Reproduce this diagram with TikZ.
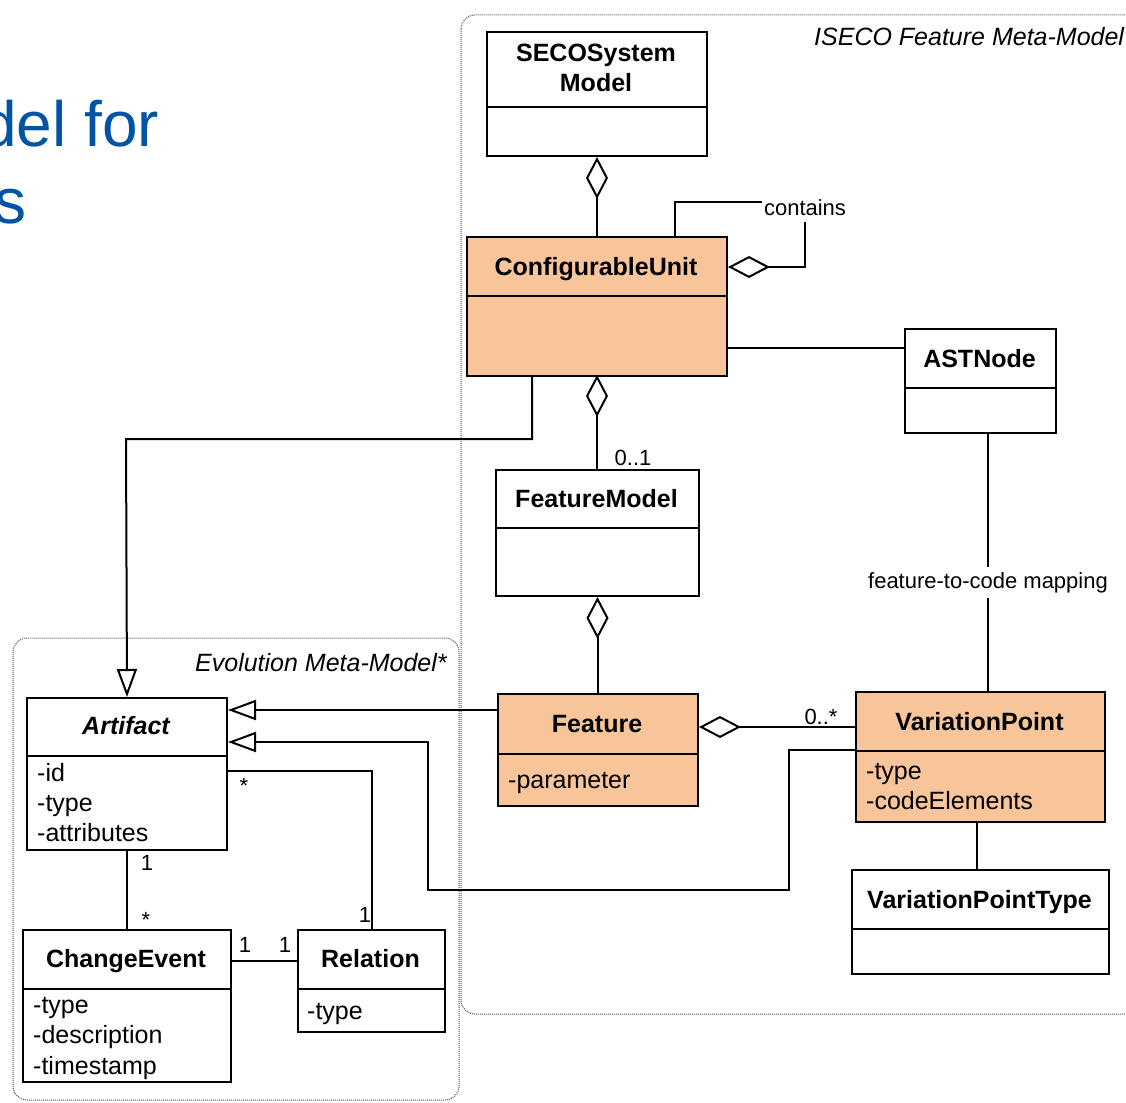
\documentclass[tikz,border=0pt]{standalone}
\usepackage{fontspec}
\setmainfont{Liberation Sans}
\usetikzlibrary{arrows.meta}

\definecolor{unitfill}{RGB}{248,197,155}
\definecolor{titleblue}{RGB}{0,84,164}
\definecolor{pkgline}{RGB}{80,80,80}

\tikzset{
  classbox/.style={draw, line width=2pt, fill=white, inner sep=0pt, anchor=north west},
  unitbox/.style={classbox, fill=unitfill},
  cname/.style={font=\bfseries\fontsize{25}{30}\selectfont, anchor=base, inner sep=0pt},
  attr/.style={font=\fontsize{25}{30}\selectfont, anchor=base west, inner sep=0pt},
  lbl/.style={font=\fontsize{22}{26}\selectfont, anchor=base, inner sep=0pt},
  pkgtitle/.style={font=\itshape\fontsize{25}{30}\selectfont, anchor=base west, inner sep=0pt},
  divider/.style={line width=2pt},
  conn/.style={line width=2pt},
  aggr/.style={conn, {Diamond[open, length=42pt, width=22pt]}-},
  gen/.style={conn, -{Triangle[open, length=28pt, width=20pt]}},
  pkg/.style={densely dotted, line width=1pt, draw=pkgline, rounded corners=14pt},
}

\begin{document}
\begin{tikzpicture}[x=1pt, y=-1pt]
\useasboundingbox (0,0) rectangle (1126,1102);

% slide heading fragments
\node[font=\fontsize{64}{76}\selectfont, text=titleblue, anchor=base west, inner sep=0pt] (head1) at (-19,147) {del for};
\node[font=\fontsize{64}{76}\selectfont, text=titleblue, anchor=base west, inner sep=0pt] (head2) at (-6,223) {s};

% packages
\draw[pkg] (461,15) rectangle (1160,1014);
\draw[pkg] (13,638) rectangle (459,1100);
\node[pkgtitle] (isecot) at (814,46) {ISECO Feature Meta-Model};
\node[pkgtitle] (evot) at (195,671) {Evolution Meta-Model*};

% classes
\node[classbox, minimum width=220pt, minimum height=124pt] (seco) at (486,31) {};
\draw[divider] (seco.west |- 0,107) -- (seco.east |- 0,107);
\node[cname] at (596,62) {SECOSystem};
\node[cname] at (596,92) {Model};

\node[unitbox, minimum width=260pt, minimum height=139pt] (cu) at (466,236) {};
\draw[divider] (cu.west |- 0,296) -- (cu.east |- 0,296);
\node[cname] at (596,275) {ConfigurableUnit};

\node[classbox, minimum width=151pt, minimum height=104pt] (ast) at (904,328) {};
\draw[divider] (ast.west |- 0,388) -- (ast.east |- 0,388);
\node[cname] at (979.5,367) {ASTNode};

\node[classbox, minimum width=203pt, minimum height=126pt] (fm) at (495,469) {};
\draw[divider] (fm.west |- 0,528) -- (fm.east |- 0,528);
\node[cname] at (596.5,507) {FeatureModel};

\node[unitbox, minimum width=200pt, minimum height=112pt] (feat) at (497,693) {};
\draw[divider] (feat.west |- 0,754) -- (feat.east |- 0,754);
\node[cname] at (597,732) {Feature};
\node[attr] at (508,788) {-parameter};

\node[unitbox, minimum width=249pt, minimum height=130pt] (vp) at (855,691) {};
\draw[divider] (vp.west |- 0,751) -- (vp.east |- 0,751);
\node[cname] at (979.5,730) {VariationPoint};
\node[attr] at (866,779) {-type};
\node[attr] at (866,809) {-codeElements};

\node[classbox, minimum width=257pt, minimum height=104pt] (vpt) at (851,869) {};
\draw[divider] (vpt.west |- 0,929) -- (vpt.east |- 0,929);
\node[cname] at (979.5,908) {VariationPointType};

\node[classbox, minimum width=200pt, minimum height=152pt] (art) at (26,697) {};
\draw[divider] (art.west |- 0,756) -- (art.east |- 0,756);
\node[cname, font=\bfseries\itshape\fontsize{25}{30}\selectfont] at (126,734) {Artifact};
\node[attr] at (37,781) {-id};
\node[attr] at (37,811) {-type};
\node[attr] at (37,841) {-attributes};

\node[classbox, minimum width=208pt, minimum height=152pt] (ce) at (22,929) {};
\draw[divider] (ce.west |- 0,989) -- (ce.east |- 0,989);
\node[cname] at (126,967) {ChangeEvent};
\node[attr] at (33,1013) {-type};
\node[attr] at (33,1043) {-description};
\node[attr] at (33,1074) {-timestamp};

\node[classbox, minimum width=147pt, minimum height=102pt] (rel) at (297,929) {};
\draw[divider] (rel.west |- 0,989) -- (rel.east |- 0,989);
\node[cname] at (370.5,967) {Relation};
\node[attr] at (307,1019) {-type};

% connectors
\draw[aggr] (seco.south) -- (cu.north -| seco.south);
\draw[aggr] (cu.east |- 0,267) -- (805,267) -- (805,202) -- (675,202) -- (cu.north -| 675,0);
\node[lbl, fill=white, inner xsep=2pt, inner ysep=7pt] (contains) at (805,215) {contains};
\draw[conn] (cu.east |- 0,348) -- (ast.west |- 0,348);
\draw[aggr] (cu.south |- 0,375) -- (fm.north -| cu.south);
\node[lbl] (m01) at (633,465) {0..1};
\draw[gen] (cu.south -| 532,0) -- (532,439) -- (126,439) -- (art.north);
\draw[aggr] (fm.south) -- (feat.north -| fm.south);
\draw[aggr] (feat.east |- 0,727) -- (vp.west |- 0,727);
\node[lbl] (m0s) at (821,724) {0..*};
\draw[conn] (ast.south -| 988,0) -- (vp.north -| 988,0);
\node[lbl, fill=white, inner xsep=1pt, inner ysep=5pt] (ftc) at (988,588) {feature-to-code mapping};
\draw[gen] (feat.west |- 0,710) -- (art.east |- 0,710);
\draw[gen] (vp.west |- 0,750) -- (789,750) -- (789,890) -- (428,890) -- (428,742) -- (art.east |- 0,742);
\draw[conn] (art.east |- 0,771) -- (372,771) -- (rel.north -| 372,0);
\node[lbl] (ms1) at (244,793) {*};
\node[lbl] (m11) at (365,922) {1};
\draw[conn] (art.south) -- (ce.north -| art.south);
\node[lbl] (ma1) at (147,870) {1};
\node[lbl] (ma2) at (146,927) {*};
\draw[conn] (ce.east |- 0,961) -- (rel.west |- 0,961);
\node[lbl] (mc1) at (245,952) {1};
\node[lbl] (mr1) at (285,952) {1};
\draw[conn] (vp.south -| 977,0) -- (vpt.north -| 977,0);
\end{tikzpicture}
\end{document}
